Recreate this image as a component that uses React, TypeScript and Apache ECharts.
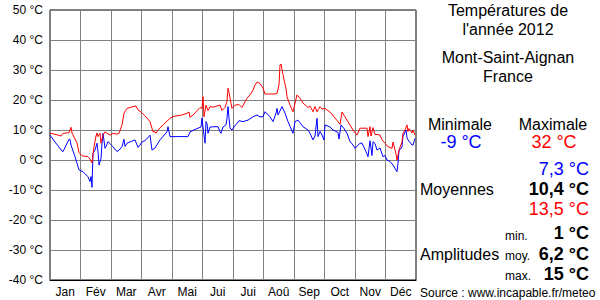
import React, { useEffect, useRef } from "react";
import * as echarts from "echarts";

const months = ["Jan", "Fév", "Mar", "Avr", "Mai", "Jui", "Jui", "Aoû", "Sep", "Oct", "Nov", "Déc"];

// [day of year (0-based), °C]
const maxTemps: [number, number][] = [
  [0, 8.9], [5, 8.6], [11, 8], [13, 8.9], [19, 9.1], [21, 10.9], [22, 9], [25, 7], [27, 5.7], [29, 2.5],
  [32, 1.4], [38, 1.1], [40, 0.3], [42, -1], [43, 2], [44, 4.4], [46, 8], [47, 9], [48, 7.8], [50, 8.9],
  [51, 5.6], [53, 8.3], [55, 9.4], [57, 8.9], [60, 8.3], [63, 8.9], [67, 8.6], [69, 8.9], [72, 11.7], [74, 15.6],
  [77, 17.2], [83, 17.8], [86, 18], [88, 16.7], [91, 16], [95, 14.7], [100, 12.8], [103, 9.4], [105, 9.4], [106, 8.9],
  [108, 10], [113, 11.7], [120, 13.9], [123, 14.5], [132, 15], [137, 15.6], [139, 16], [140, 14.2], [143, 15], [150, 17.5],
  [152, 17.2], [153, 21.1], [154, 14.4], [156, 18.3], [158, 16.5], [160, 17.8], [163, 17.6], [170, 18.3], [172, 16.5], [175, 17.5],
  [177, 19.5], [178, 23.9], [179, 22.5], [181, 18.9], [182, 17.2], [185, 18.3], [189, 18.5], [192, 17.5], [195, 19.4], [197, 20.6],
  [200, 21.7], [203, 23.3], [205, 25], [207, 26], [210, 25.5], [213, 24], [215, 22], [225, 22], [227, 22.2], [229, 25],
  [230, 31.7], [231, 32], [233, 28.5], [234, 26.7], [236, 23.9], [237, 21.1], [240, 18.3], [243, 16.1], [247, 21.7], [250, 20.6],
  [253, 19], [258, 17.5], [260, 18], [263, 16.1], [265, 17.8], [267, 16.1], [270, 17.8], [272, 17], [275, 17.2], [277, 16.7],
  [280, 16], [288, 12.8], [290, 11.9], [292, 16], [295, 14.4], [303, 10], [307, 8.3], [310, 10.6], [312, 10.6], [317, 10.6],
  [318, 7.8], [320, 11.1], [321, 8], [323, 10.8], [325, 8.5], [327, 8.5], [330, 8.3], [332, 6.7], [335, 5.6], [338, 4.4],
  [342, 3.9], [343, 6], [346, 2], [347, 0], [349, 3.3], [352, 6], [353, 8.9], [355, 10], [357, 11.7], [358, 9.5],
  [359, 10.5], [362, 9], [363, 10], [365, 8.3],
];

const minTemps: [number, number][] = [
  [0, 8.3], [5, 6], [12, 3], [13, 2.8], [19, 6.9], [20, 6.9], [21, 5], [25, 1.1], [29, -3.3], [33, -3.9],
  [38, -5.6], [40, -7.2], [41, -5.5], [42, -9.1], [43, 2.2], [45, 3.3], [47, 5.6], [48, 2.8], [49, -1.7], [51, 0.5],
  [52, 5.6], [53, 8.9], [55, 3.9], [56, 4.5], [58, 6.1], [60, 5.5], [63, 4.4], [67, 2.8], [70, 3.6], [72, 4.5],
  [74, 6.9], [75, 4.5], [77, 5.6], [85, 6.7], [88, 4.2], [90, 5], [92, 6], [95, 6.5], [99, 7.8], [100, 8.3],
  [102, 3.3], [105, 4], [110, 6.7], [117, 9.4], [118, 11.1], [120, 7.8], [138, 7.8], [140, 9.4], [148, 10.6], [151, 11],
  [152, 14], [153, 11], [155, 5.6], [156, 12.8], [157, 12.2], [158, 8.9], [160, 11], [165, 11.1], [168, 11.1], [170, 9.4],
  [171, 8.9], [173, 11], [176, 11.7], [177, 13.9], [178, 17.8], [179, 14], [180, 10.6], [182, 10], [184, 11], [187, 12.2],
  [189, 13.1], [193, 12.8], [198, 13.3], [203, 14.4], [207, 15], [210, 14.4], [213, 14.4], [215, 16.1], [220, 14.4], [223, 12.8],
  [226, 15.6], [227, 17.2], [228, 15], [232, 17.8], [235, 15.6], [238, 12.8], [243, 8.9], [245, 12.8], [248, 13.3], [253, 11.1],
  [258, 10], [260, 8.9], [263, 6.7], [265, 8], [267, 13.9], [268, 7.8], [270, 9.5], [272, 8.3], [274, 6.7], [275, 11.7],
  [280, 11], [283, 10], [288, 9.2], [289, 7], [291, 11.7], [294, 10.5], [297, 8.9], [300, 6.1], [302, 5.5], [305, 3.9],
  [310, 5.6], [312, 5.6], [316, 2.8], [318, 1.1], [320, 6.4], [322, 1.5], [323, 6.1], [325, 5.5], [327, 3.3], [330, 4],
  [333, 1.1], [335, 1.5], [337, 0], [340, -0.5], [343, -1.7], [347, -3.9], [348, -1], [349, 3], [352, 4.4], [353, 7.8],
  [356, 10], [357, 7.5], [358, 6.7], [362, 5], [363, 5], [365, 7.2],
];

const titleLines = ["Températures de", "l'année 2012", "Mont-Saint-Aignan", "France"];
const extremes = { min: "-9 °C", max: "32 °C" };
const averages = ["7,3 °C", "10,4 °C", "13,5 °C"];
const amplitudes = [
  ["min.", "1 °C"],
  ["moy.", "6,2 °C"],
  ["max.", "15 °C"],
];
const sourceText = "Source : www.incapable.fr/meteo";

const FONT = "Liberation Sans, Arial, Helvetica, sans-serif";

function txt(text: string, x: number, y: number, size: number, color = "#000", align = "center", weight = "normal") {
  return {
    type: "text",
    style: {
      text,
      x,
      y,
      fill: color,
      align,
      verticalAlign: "middle",
      font: `${weight} ${size}px ${FONT}`,
    },
  };
}

export default function App() {
  const ref = useRef<HTMLDivElement>(null);
  useEffect(() => {
    if (!ref.current) return;
    const chart = echarts.init(ref.current, undefined, { renderer: "svg" });
    const graphics: any[] = [
      txt(titleLines[0], 508, 10, 16),
      txt(titleLines[1], 508, 29, 16),
      txt(titleLines[2], 508, 57, 16),
      txt(titleLines[3], 508, 76.5, 16),
      txt("Minimale", 460, 124.5, 16),
      txt("Maximale", 553, 124.5, 16),
      txt(extremes.min, 461, 142, 18, "#0000ff"),
      txt(extremes.max, 554, 142, 18, "#ff0000"),
      txt(averages[0], 589, 168.5, 18, "#0000ff", "right"),
      txt("Moyennes", 420, 189, 16, "#000", "left"),
      txt(averages[1], 589, 188.5, 18, "#000", "right", "bold"),
      txt(averages[2], 589, 208.5, 18, "#ff0000", "right"),
      txt("Amplitudes", 420, 254, 16, "#000", "left"),
      txt(amplitudes[0][0], 505, 236, 12, "#000", "left"),
      txt(amplitudes[0][1], 589, 233, 18, "#000", "right", "bold"),
      txt(amplitudes[1][0], 505, 256, 12, "#000", "left"),
      txt(amplitudes[1][1], 589, 253.5, 18, "#000", "right", "bold"),
      txt(amplitudes[2][0], 505, 276, 12, "#000", "left"),
      txt(amplitudes[2][1], 589, 273.5, 18, "#000", "right", "bold"),
      txt(sourceText, 420, 293, 12, "#000", "left"),
    ];
    chart.setOption({
      animation: false,
      backgroundColor: "#fff",
      textStyle: { fontFamily: FONT },
      grid: {
        left: 50,
        right: 184,
        top: 10,
        bottom: 20,
        show: true,
        borderColor: "#000",
        borderWidth: 1,
        backgroundColor: "#fff",
        containLabel: false,
      },
      xAxis: [
        {
          type: "category",
          data: months,
          boundaryGap: true,
          position: "bottom",
          axisLine: { show: true, onZero: false, lineStyle: { color: "#000", width: 1 } },
          axisTick: { show: false, interval: 0 },
          axisLabel: { interval: 0, color: "#000", fontSize: 12, fontFamily: FONT, margin: 6 },
          splitLine: { show: true, interval: 0, lineStyle: { color: "#808080", width: 1 } },
          z: 1,
        },
        {
          type: "value",
          min: 0,
          max: 366,
          show: false,
          axisLine: { onZero: false },
          splitLine: { show: false },
        },
      ],
      yAxis: {
        type: "value",
        min: -40,
        max: 50,
        interval: 10,
        axisLine: { show: true, onZero: false, lineStyle: { color: "#000", width: 1 } },
        axisTick: { show: false },
        axisLabel: {
          formatter: "{value} °C",
          color: "#000",
          fontSize: 12,
          fontFamily: FONT,
          margin: 7,
        },
        splitLine: { show: true, lineStyle: { color: "#808080", width: 1 } },
      },
      series: [
        {
          type: "line",
          name: "min",
          xAxisIndex: 1,
          data: minTemps,
          showSymbol: false,
          symbol: "none",
          lineStyle: { color: "#0000ff", width: 1 },
          itemStyle: { color: "#0000ff" },
          z: 3,
        },
        {
          type: "line",
          name: "max",
          xAxisIndex: 1,
          data: maxTemps,
          showSymbol: false,
          symbol: "none",
          lineStyle: { color: "#ff0000", width: 1 },
          itemStyle: { color: "#ff0000" },
          z: 4,
        },
      ],
      graphic: graphics,
    });
    return () => chart.dispose();
  }, []);
  return <div ref={ref} style={{ position: "absolute", left: 0, top: 0, width: 600, height: 300 }} />;
}
